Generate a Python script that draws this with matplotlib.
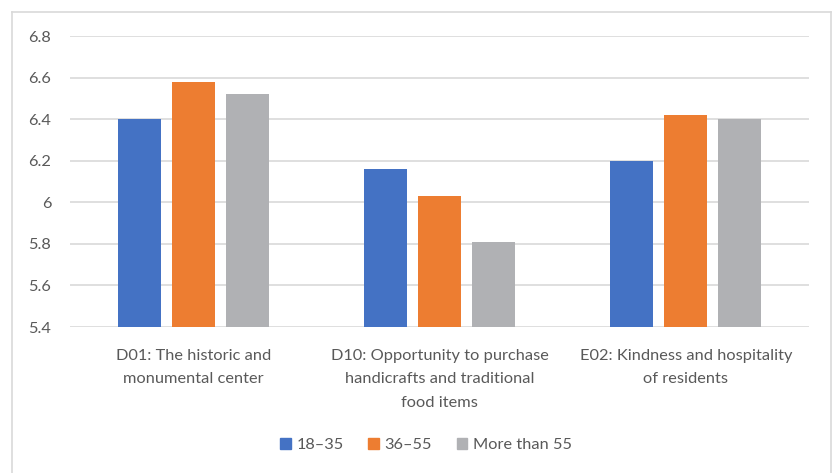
import matplotlib
matplotlib.use("Agg")
import matplotlib.pyplot as plt
import numpy as np
from matplotlib.lines import Line2D

categories = [
    "D01: The historic and\nmonumental center",
    "D10: Opportunity to purchase\nhandicrafts and traditional\nfood items",
    "E02: Kindness and hospitality\nof residents",
]
series_names = ["18\u201335", "36\u201355", "More than 55"]
values_18_35 = [6.40, 6.16, 6.20]
values_36_55 = [6.58, 6.03, 6.42]
values_55_plus = [6.52, 5.81, 6.40]
colors = ["#4472C4", "#ED7D31", "#B0B1B4"]
y_ticks = [5.4, 5.6, 5.8, 6.0, 6.2, 6.4, 6.6, 6.8]
y_tick_labels = ["5.4", "5.6", "5.8", "6", "6.2", "6.4", "6.6", "6.8"]

plt.rcParams["font.family"] = ["Lato", "DejaVu Sans"]
text_color = "#595959"
fs = 11.8

W, H = 833, 473
fig = plt.figure(figsize=(W / 100, H / 100), dpi=100)

# plot area in pixel coordinates
left, right, top, bottom = 70, 809, 36, 327
ax = fig.add_axes([left / W, 1 - bottom / H, (right - left) / W, (bottom - top) / H])

x = np.arange(len(categories))
bar_w = 0.175
step = 0.219
for i, (vals, name) in enumerate(zip([values_18_35, values_36_55, values_55_plus], series_names)):
    ax.bar(x + (i - 1) * step, np.array(vals) - 5.4, bottom=5.4, width=bar_w,
           color=colors[i], label=name, zorder=3)

ax.set_xlim(-0.5, len(categories) - 0.5)
ax.set_ylim(5.4, 6.8)
ax.set_yticks(y_ticks)
ax.set_yticklabels(y_tick_labels)
ax.yaxis.grid(True, color="#D9D9D9", linewidth=1.2, zorder=0)
ax.set_axisbelow(True)
for s in ["top", "right", "left", "bottom"]:
    ax.spines[s].set_visible(False)
ax.tick_params(axis="y", length=0, pad=13.5, labelsize=fs, labelcolor=text_color)
ax.tick_params(axis="x", length=0, pad=15.5, labelsize=fs, labelcolor=text_color)
ax.set_xticks(x)
ax.set_xticklabels(categories, linespacing=1.87)

# legend
handles = [plt.Rectangle((0, 0), 1, 1, color=c) for c in colors]
fig.legend(handles, series_names, loc="center", bbox_to_anchor=(426 / W, 1 - 445 / H),
           ncol=3, frameon=False, fontsize=fs, labelcolor=text_color,
           handlelength=0.65, handleheight=0.65, handletextpad=0.35, columnspacing=1.5)

# chart-area border
border_color = "#D9D9D9"
fig.add_artist(Line2D([12 / W, 12 / W], [0, 1 - 12 / H], transform=fig.transFigure, color=border_color, lw=1.2))
fig.add_artist(Line2D([12 / W, 831 / W], [1 - 12 / H, 1 - 12 / H], transform=fig.transFigure, color=border_color, lw=1.2))
fig.add_artist(Line2D([831 / W, 831 / W], [0, 1 - 12 / H], transform=fig.transFigure, color=border_color, lw=1.2))

fig.savefig("out.png", dpi=100, facecolor="white")
